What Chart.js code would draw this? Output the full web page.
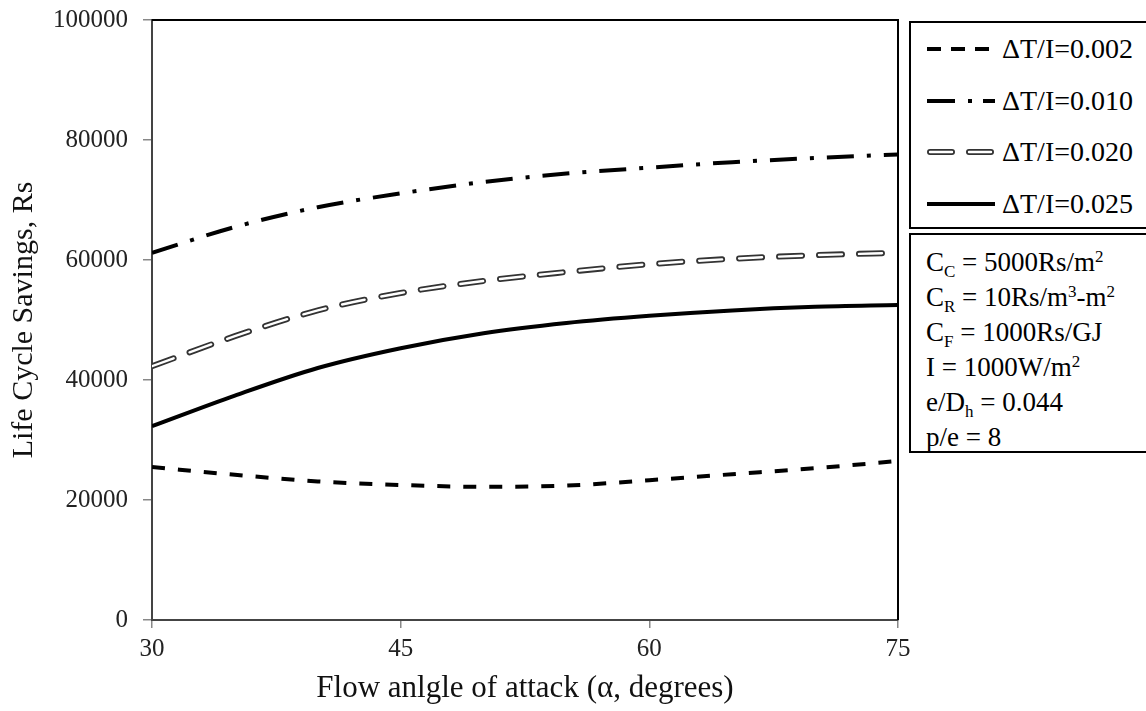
<!DOCTYPE html>
<html>
<head>
<meta charset="utf-8">
<script src="https://cdn.jsdelivr.net/npm/chart.js@4.4.0/dist/chart.umd.min.js"></script>
<style>
  html, body { margin: 0; padding: 0; background: #fff; }
  #wrap { position: relative; width: 1146px; height: 711px; overflow: hidden; font-family: "Liberation Serif", "Times New Roman", serif; color: #000; }
  #chart { position: absolute; left: 0; top: 0; }
  .box { position: absolute; border: 2px solid #000; box-sizing: border-box; background: #fff; }
  .item { position: absolute; font-size: 28px; line-height: 34px; height: 34px; white-space: nowrap; }
  .sample { position: absolute; }
  .ann { position: absolute; font-size: 27px; line-height: 34px; height: 34px; white-space: nowrap; }
  .ann sub { font-size: 17px; vertical-align: -6px; line-height: 0; }
  .ann sup { font-size: 17px; vertical-align: 9px; line-height: 0; }
</style>
</head>
<body>
<div id="wrap">
  <canvas id="chart" width="1146" height="711"></canvas>

  <div class="box" style="left:909px; top:21px; width:250px; height:208px;"></div>
  <svg class="sample" style="left:927px; top:43px;" width="70" height="12">
    <line x1="0" y1="6" x2="68" y2="6" stroke="#000" stroke-width="4" stroke-dasharray="14,10"/>
  </svg>
  <div class="item" style="left:1002px; top:32px;">ΔT/I=0.002</div>
  <svg class="sample" style="left:927px; top:95px;" width="70" height="12">
    <line x1="0" y1="6" x2="68" y2="6" stroke="#000" stroke-width="4" stroke-dasharray="28,13,4,11,12"/>
  </svg>
  <div class="item" style="left:1002px; top:84px;">ΔT/I=0.010</div>
  <svg class="sample" style="left:927px; top:146px;" width="70" height="12">
    <line x1="3" y1="6" x2="66" y2="6" stroke="#333" stroke-width="6" stroke-linecap="round" stroke-dasharray="22,17"/>
    <line x1="3" y1="6" x2="66" y2="6" stroke="#fff" stroke-width="2.4" stroke-linecap="round" stroke-dasharray="22,17"/>
  </svg>
  <div class="item" style="left:1002px; top:135px;">ΔT/I=0.020</div>
  <svg class="sample" style="left:927px; top:198px;" width="70" height="12">
    <line x1="0" y1="6" x2="68" y2="6" stroke="#000" stroke-width="4"/>
  </svg>
  <div class="item" style="left:1002px; top:187px;">ΔT/I=0.025</div>

  <div class="box" style="left:909px; top:233px; width:250px; height:220px;"></div>
  <div class="ann" style="left:926px; top:245px;">C<sub>C</sub> = 5000Rs/m<sup>2</sup></div>
  <div class="ann" style="left:926px; top:280px;">C<sub>R</sub> = 10Rs/m<sup>3</sup>-m<sup>2</sup></div>
  <div class="ann" style="left:926px; top:315px;">C<sub>F</sub> = 1000Rs/GJ</div>
  <div class="ann" style="left:926px; top:350px;">I = 1000W/m<sup>2</sup></div>
  <div class="ann" style="left:926px; top:385px;">e/D<sub>h</sub> = 0.044</div>
  <div class="ann" style="left:926px; top:420px;">p/e = 8</div>
</div>
<script>
// ---- data ----
const alpha   = [30, 35, 40, 45, 50, 55, 60, 65, 70, 75];
const dT_002  = [25500, 24200, 23100, 22500, 22200, 22400, 23300, 24300, 25300, 26500];
const dT_010  = [61200, 65500, 68800, 71100, 73000, 74400, 75400, 76300, 77000, 77600];
const dT_020  = [42300, 47300, 51600, 54500, 56500, 58000, 59300, 60200, 60800, 61200];
const dT_025  = [32300, 37400, 42000, 45300, 47800, 49500, 50700, 51600, 52200, 52500];
const xTicks  = [30, 45, 60, 75];
const yTicks  = [0, 20000, 40000, 60000, 80000, 100000];

const pts = arr => alpha.map((a, i) => ({ x: a, y: arr[i] }));
const base = { pointRadius: 0, pointHoverRadius: 0, fill: false, cubicInterpolationMode: 'monotone', borderCapStyle: 'butt' };

const FONT = '"Liberation Serif", "Times New Roman", serif';

const frame = {
  id: 'frame',
  afterDatasetsDraw(chart) {
    const { ctx, chartArea: a } = chart;
    ctx.save();
    ctx.strokeStyle = '#000';
    ctx.lineWidth = 2;
    ctx.beginPath();
    ctx.moveTo(a.left, a.top);
    ctx.lineTo(a.right, a.top);
    ctx.lineTo(a.right, a.bottom);
    ctx.stroke();
    ctx.restore();
  }
};

new Chart(document.getElementById('chart'), {
  type: 'line',
  data: {
    datasets: [
      Object.assign({}, base, { label: 'ΔT/I=0.002', data: pts(dT_002), borderColor: '#000', borderWidth: 4, borderDash: [13, 13], order: 3 }),
      Object.assign({}, base, { label: 'ΔT/I=0.010', data: pts(dT_010), borderColor: '#000', borderWidth: 4, borderDash: [27, 13, 4, 13], order: 3 }),
      Object.assign({}, base, { label: 'ΔT/I=0.020', data: pts(dT_020), borderColor: '#333', borderWidth: 6, borderDash: [23, 17], borderCapStyle: 'round', order: 2 }),
      Object.assign({}, base, { label: 'ΔT/I=0.020 inner', data: pts(dT_020), borderColor: '#fff', borderWidth: 2.4, borderDash: [23, 17], borderCapStyle: 'round', order: 1 }),
      Object.assign({}, base, { label: 'ΔT/I=0.025', data: pts(dT_025), borderColor: '#000', borderWidth: 4, order: 3 })
    ]
  },
  options: {
    responsive: false,
    animation: false,
    events: [],
    layout: { padding: { top: 20, right: 248, left: 0, bottom: 0 } },
    plugins: { legend: { display: false }, tooltip: { enabled: false } },
    scales: {
      x: {
        type: 'linear', min: 30, max: 75,
        afterBuildTicks: s => { s.ticks = xTicks.map(v => ({ value: v })); },
        afterFit: s => { s.height = 91; s.paddingLeft = 0; s.paddingRight = 0; },
        ticks: { font: { family: FONT, size: 25 }, color: '#222', padding: 6 },
        grid: { drawOnChartArea: false, drawTicks: true, tickLength: 8, color: '#888', lineWidth: 1.5 },
        border: { display: true, color: '#444', width: 2 },
        title: { display: true, text: 'Flow anlgle of attack (α, degrees)', font: { family: FONT, size: 31 }, color: '#111', padding: { top: 0, bottom: 4 } }
      },
      y: {
        min: 0, max: 100000,
        afterBuildTicks: s => { s.ticks = yTicks.map(v => ({ value: v })); },
        afterFit: s => { s.width = 152; s.paddingTop = 0; s.paddingBottom = 0; },
        ticks: { font: { family: FONT, size: 25 }, color: '#222', padding: 15, callback: v => String(v) },
        grid: { drawOnChartArea: false, drawTicks: true, tickLength: 9, color: '#888', lineWidth: 1.5 },
        border: { display: true, color: '#444', width: 2 },
        title: { display: true, text: 'Life Cycle Savings, Rs', font: { family: FONT, size: 30 }, color: '#111', padding: { top: 6, bottom: 0 } }
      }
    }
  },
  plugins: [frame]
});
</script>
</body>
</html>
